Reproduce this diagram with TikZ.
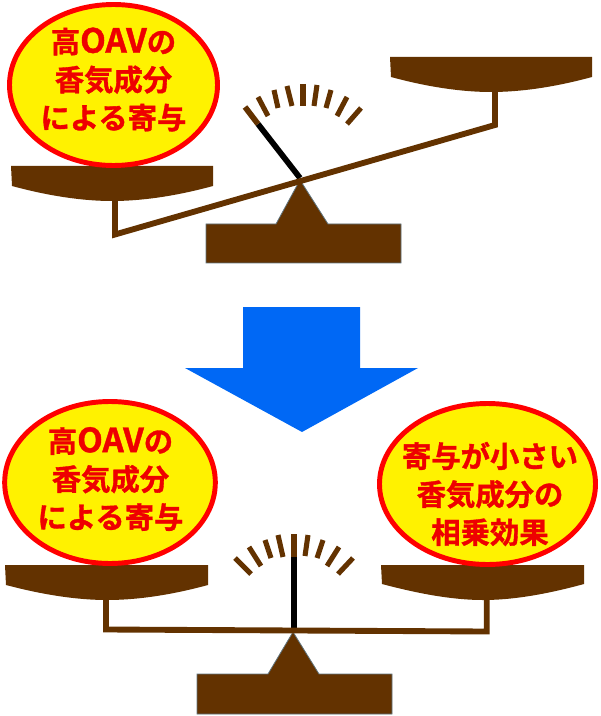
\documentclass[tikz,border=0pt]{standalone}
\usepackage{fontspec}
\setmainfont{Noto Sans CJK JP}[BoldFont={Noto Sans CJK JP Bold},BoldFeatures={FakeBold=1.2}]
\usetikzlibrary{shapes.geometric}
\definecolor{brn}{RGB}{99,50,0}
\definecolor{edgeb}{RGB}{95,115,125}
\definecolor{bluearrow}{RGB}{0,104,245}
\definecolor{txtred}{RGB}{238,0,0}
\newcommand{\oavword}{{\fontsize{25}{28.5}\selectfont OAV}}
\tikzset{
 x=0.75pt,y=-0.75pt,
 bubble/.style={ellipse,draw=red,fill=yellow,line width=3.7pt,inner sep=0pt},
 lab/.style={font=\bfseries\fontsize{22}{28.5}\selectfont,text=txtred,align=center,inner sep=0pt},
 pan/.style={fill=brn,draw=none},
 beam/.style={draw=brn,line width=4.4pt,miter limit=10},
 needle/.style={draw=black,line width=4.3pt},
 needletip/.style={draw=brn,line width=4.3pt},
 tick/.style={draw=brn,line width=3.8pt},
 base/.style={fill=brn,draw=edgeb,line width=.6pt}
}
\begin{document}
\begin{tikzpicture}
\useasboundingbox (0,0) rectangle (600,716);
% top scale
\draw[base] (206,224)--(276,224)--(300,180)--(328,224)--(401,224)--(401,263)--(206,263)--cycle;
\draw[needle] (300,178)--(258,124);
\draw[needletip] (258,124)--(245,107);
\foreach \a/\b/\c/\d in {258/97/268/116, 274/90/278/108, 287/86/292/106, 303/84/303/106, 317/85/314/106, 331/90/326/108, 347/97/337/116, 361/108/347/124}
 \draw[tick] (\a,\b)--(\c,\d);
\draw[beam] (115,201)--(115,234.5)--(495,125)--(495,92);
\path[pan] (11,166)--(213,166)--(213,186) .. controls (180,195) and (145,201) .. (112,201) .. controls (80,201) and (45,195) .. (12,186)--cycle;
\path[pan] (390,57)--(592,57)--(592,77) .. controls (559,86) and (524,92) .. (491,92) .. controls (459,92) and (424,86) .. (391,77)--cycle;
\node[bubble,minimum width=156pt,minimum height=120.75pt] (e1) at (113.5,85) {};
\node[lab] (t1) at (113.5,79.5) {高\oavword の\\香気成分\\による寄与};
% arrow
\path[fill=bluearrow] (243,307)--(360,307)--(360,368)--(418,368)--(302,432)--(185,368)--(243,368)--cycle;
% bottom scale
\draw[base] (197,674)--(268,674)--(293,632)--(319,674)--(392,674)--(392,714)--(197,714)--cycle;
\draw[needle] (294,629)--(294,557);
\draw[needletip] (294,557)--(294,534);
\foreach \a/\b/\c/\d in {235/558/251/574, 249/547/261/566, 265/540/271/558, 278/535/283/557, 308/535/305/556, 323/540/317/558, 339/547/327/566, 353/558/338/574}
 \draw[tick] (\a,\b)--(\c,\d);
\draw[beam] (106,600)--(106,629.5)--(486.7,631.5)--(486.7,600);
\path[pan] (5,565)--(208,565)--(208,585) .. controls (175,594) and (140,600) .. (107,600) .. controls (75,600) and (40,594) .. (6,585)--cycle;
\path[pan] (381,565)--(584,565)--(584,584) .. controls (551,593) and (516,600) .. (483,600) .. controls (451,600) and (416,593) .. (382,584)--cycle;
\node[bubble,minimum width=158pt,minimum height=121.5pt] (e2) at (110,482.5) {};
\node[lab] (t2) at (110.5,479) {高\oavword の\\香気成分\\による寄与};
\node[bubble,minimum width=162pt,minimum height=120.75pt] (e3) at (487.5,484) {};
\node[lab] (t3) at (490,494) {寄与が小さい\\香気成分の\\相乗効果};
\end{tikzpicture}
\end{document}
